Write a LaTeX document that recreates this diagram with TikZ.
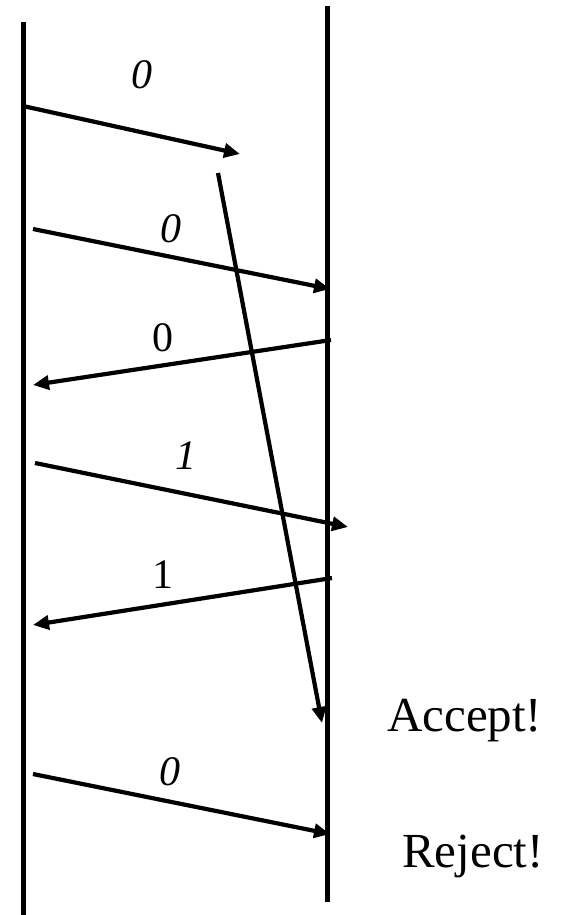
\documentclass[tikz,border=0pt]{standalone}
\usepackage{fontspec}
\setmainfont{Liberation Serif}
\usetikzlibrary{arrows.meta}
\begin{document}
\begin{tikzpicture}[x=1pt,y=-1pt,
  life/.style={line width=4.8pt},
  msg/.style={line width=4.2pt,-{Triangle[length=16pt,width=14pt]}},
  lab/.style={font=\fontsize{42}{42}\selectfont\itshape, inner sep=0pt},
  labu/.style={font=\fontsize{42}{42}\selectfont, inner sep=0pt},
  res/.style={font=\fontsize{49}{49}\selectfont, inner sep=0pt, anchor=base west}]
\useasboundingbox (0,0) rectangle (560,915);
% lifelines
\coordinate (Lt) at (23.5,22);
\coordinate (Lb) at (23.5,915);
\coordinate (Rt) at (327.5,6);
\coordinate (Rb) at (327.5,902);
\draw[life] (Lt) -- (Lb);
\draw[life] (Rt) -- (Rb);
% message endpoints
\coordinate (a1) at (23,106);  \coordinate (b1) at (240,154);
\coordinate (a2) at (218,173); \coordinate (b2) at (322,723);
\coordinate (a3) at (33,229);  \coordinate (b3) at (330,289);
\coordinate (a4) at (331,340); \coordinate (b4) at (33,385);
\coordinate (a5) at (35,463);  \coordinate (b5) at (348,527);
\coordinate (a6) at (332,578); \coordinate (b6) at (33,625);
\coordinate (a7) at (33,774);  \coordinate (b7) at (330,834);
\draw[msg] (a1) -- (b1);
\draw[msg] (a2) -- (b2);
\draw[msg] (a3) -- (b3);
\draw[msg] (a4) -- (b4);
\draw[msg] (a5) -- (b5);
\draw[msg] (a6) -- (b6);
\draw[msg] (a7) -- (b7);
% labels
\node[lab]  (l1) at (142,75)  {0};
\node[lab]  (l3) at (171,229) {0};
\node[labu] (l4) at (163,338) {0};
\node[lab]  (l5) at (186,456) {1};
\node[labu] (l6) at (163,575) {1};
\node[lab]  (l7) at (170,772) {0};
\node[res]  (acc) at (387,731) {Accept!};
\node[res]  (rej) at (402,867) {Reject!};
\end{tikzpicture}
\end{document}
